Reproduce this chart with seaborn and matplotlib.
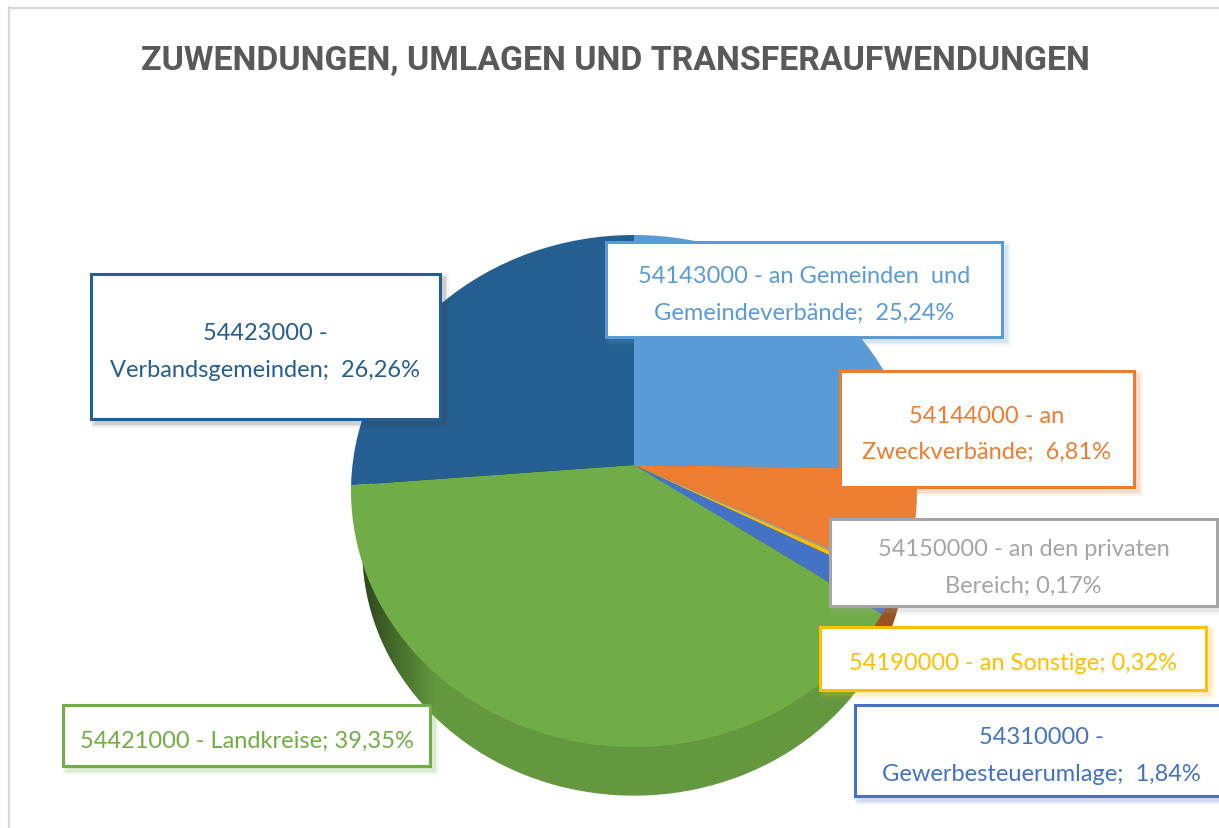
import numpy as np
import matplotlib.pyplot as plt
import matplotlib.colors as mcolors
from matplotlib.patches import PathPatch, Rectangle
from matplotlib.path import Path
import seaborn as sns

sns.set_theme(style="white")
plt.rcParams['font.family'] = ['Lato', 'DejaVu Sans']

title = 'ZUWENDUNGEN, UMLAGEN UND TRANSFERAUFWENDUNGEN'
codes = ['54143000', '54144000', '54150000', '54190000', '54310000', '54421000', '54423000']
names = ['an Gemeinden  und\nGemeindeverbände', 'an\nZweckverbände', 'an den privaten\nBereich',
         'an Sonstige', '\nGewerbesteuerumlage', 'Landkreise', '\nVerbandsgemeinden']
shares = [25.24, 6.81, 0.17, 0.32, 1.84, 39.35, 26.26]
colors = ['#5B9BD5', '#ED7D31', '#A5A5A5', '#FFC000', '#4472C4', '#70AD47', '#255E91']
side_dark = [0.8, 0.65, 0.8, 0.8, 0.7, 0.88, 0.8]

# label boxes in pixels: left, top, right, bottom
boxes = [(606, 243, 1002, 338), (840, 372, 1134, 488), (830, 520, 1217, 607), (820, 628, 1206, 691),
         (855, 706, 1225, 797), (63, 706, 430, 767), (91, 275, 440, 420)]

W, H = 1219, 829
k = -0.1016  # tilt, moves the pie's apex above the middle of the ellipse


def tilt(wedge):
    # perspective of a tilted disc: straight edges stay straight, the rim stays an ellipse
    path = wedge.get_path()
    cx, cy = wedge.center
    x = (path.vertices[:, 0] - cx) / wedge.r
    y = (path.vertices[:, 1] - cy) / wedge.r
    d = 1 - k * y
    xy = np.column_stack([np.sqrt(1 - k * k) * x / d * wedge.r + cx,
                          (y - k) / d * wedge.r + cy])
    return Path(xy, path.codes)


def draw_pie(ax, cols, center, radius, z):
    wedges, _ = ax.pie(shares, colors=cols, startangle=90, counterclock=False,
                       center=center, radius=radius, frame=True)
    patches = []
    for w, c in zip(wedges, cols):
        p = PathPatch(tilt(w), facecolor=c, edgecolor='none', zorder=z)
        w.remove()
        ax.add_patch(p)
        patches.append(p)
    return patches


fig = plt.figure(figsize=(W / 100, H / 100), dpi=100)

# pie axes: data -1..1 is the ellipse of the top face
ax = fig.add_axes([351 / W, 1 - 748 / H, 566 / W, 512 / H])
side_cols = [mcolors.to_hex(np.array(mcolors.to_rgb(c)) * f) for c, f in zip(colors, side_dark)]
side = draw_pie(ax, side_cols, (0, -0.23), 0.96, 1)
shade = np.zeros((1, 256, 4))
shade[0, :, 3] = np.clip(0.62 * (1 - np.linspace(0, 1, 256) / 0.3), 0, 1)
im = ax.imshow(shade, extent=(-1, 0, -1.3, 1), aspect='auto', zorder=2)
im.set_clip_path(side[5])
draw_pie(ax, colors, (0, 0), 1, 3)
ax.set_xlim(-1, 1)
ax.set_ylim(-1, 1)
ax.set_aspect('auto')
ax.axis('off')
for p in ax.patches:
    p.set_clip_on(False)

# overlay in picture pixels for frame, title and labels
ov = fig.add_axes([0, 0, 1, 1])
ov.set_xlim(0, W)
ov.set_ylim(H, 0)
ov.axis('off')
ov.patch.set_alpha(0)

ov.plot([9, W], [8.5, 8.5], color='#D9D9D9', lw=1.6)
ov.plot([9, 9], [8, H], color='#D9D9D9', lw=1.6)
ov.text(615, 61, title, ha='center', va='center', fontsize=24.4, fontweight='bold', color='#595959',
        family=['Roboto', 'Lato', 'DejaVu Sans'])

for code, name, share, col, (l, t, r, b) in zip(codes, names, shares, colors, boxes):
    # soft shadow under the box
    for g, a in zip([9, 6, 3], [0.06, 0.09, 0.12]):
        ov.add_patch(Rectangle((l + 2 - g / 2 + 2, t + 2 - g / 2 + 2), r - l + g, b - t + g,
                               facecolor='#404040' if col == '#255E91' else col, edgecolor='none', alpha=a, zorder=4))
    ov.add_patch(Rectangle((l, t), r - l, b - t, facecolor='white', edgecolor=col, lw=2.2, zorder=5))
    pct = f'{share:.2f}'.replace('.', ',') + '%'
    sep = '  ' if '\n' in name and 'Bereich' not in name else ' '
    label = f'{code} - {name};{sep}{pct}'.replace(' - \n', ' -\n')
    ov.text((l + min(r, W)) / 2 + (4 if r > W else 0), (t + b) / 2 + 4.5, label,
            ha='center', va='center', fontsize=17, color=col, linespacing=1.9, zorder=6)

fig.savefig('out.png', dpi=100, facecolor='white')
